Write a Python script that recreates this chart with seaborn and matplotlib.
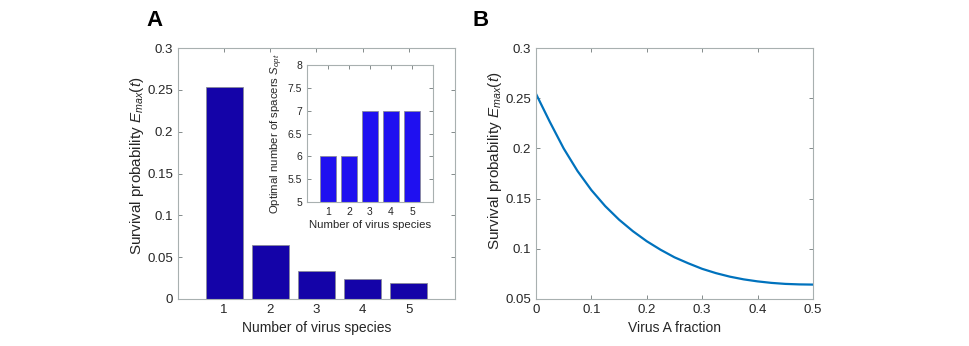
import numpy as np
import pandas as pd
import matplotlib
matplotlib.use("Agg")
import matplotlib.pyplot as plt
from matplotlib.ticker import FuncFormatter
import seaborn as sns

# panel A: survival probability vs number of virus species
species = ['1', '2', '3', '4', '5']
survival = [0.254, 0.065, 0.034, 0.024, 0.019]
# inset: optimal number of spacers
spacers_opt = [6, 6, 7, 7, 7]
# panel B: survival probability vs virus A fraction
fraction = [0.0, 0.025, 0.05, 0.075, 0.1, 0.125, 0.15, 0.175, 0.2, 0.225, 0.25,
            0.275, 0.3, 0.325, 0.35, 0.375, 0.4, 0.425, 0.45, 0.475, 0.5]
survival_b = [0.2545, 0.2265, 0.2000, 0.1775, 0.1585, 0.1425, 0.1290, 0.1175, 0.1075, 0.0990, 0.0915,
              0.0855, 0.0800, 0.0757, 0.0722, 0.0695, 0.0675, 0.0660, 0.0650, 0.0645, 0.0643]

sns.set_style("white")
plt.rcParams['font.family'] = ['Liberation Sans', 'DejaVu Sans']
plt.rcParams['mathtext.fontset'] = 'custom'
plt.rcParams['mathtext.it'] = 'Liberation Sans:italic'
plt.rcParams['mathtext.rm'] = 'Liberation Sans'
text_col = '#262626'
spine_col = '#a8b0b0'
bar_dark = '#1403a8'
bar_bright = '#1f10f0'
line_col = '#0072bd'


def style_axes(ax, size):
    for s in ax.spines.values():
        s.set_visible(True)
        s.set_color(spine_col)
        s.set_linewidth(0.8)
    ax.tick_params(direction='in', length=3, width=0.6, color='#707878',
                   top=True, right=True, labelsize=size, labelcolor=text_col,
                   bottom=True, left=True)


gfmt = FuncFormatter(lambda v, p: ('%g' % round(v, 4)))

fig = plt.figure(figsize=(9.69, 3.46), dpi=100)

# panel A
ax1 = fig.add_axes([0.1837, 0.136, 0.2858, 0.725])
sns.barplot(x=species, y=survival, color=bar_dark, width=0.8, saturation=1,
            edgecolor='#8a8a9a', linewidth=0.6, ax=ax1)
ax1.set_xlim(-1, 5)
ax1.set_ylim(0, 0.3)
ax1.set_yticks(np.arange(0, 0.31, 0.05))
ax1.yaxis.set_major_formatter(gfmt)
style_axes(ax1, 9.5)
ax1.set_xlabel('Number of virus species', fontsize=10, color=text_col, labelpad=4)
ax1.set_ylabel('Survival probability $E_{max}(t)$', fontsize=11, color=text_col,
               labelpad=1, y=0.53)

# inset
ax_in = fig.add_axes([0.3168, 0.416, 0.130, 0.396])
sns.barplot(x=species, y=spacers_opt, color=bar_bright, width=0.8, saturation=1,
            edgecolor='#8a8a9a', linewidth=0.6, ax=ax_in)
ax_in.set_xlim(-1, 5)
ax_in.set_ylim(5, 8)
ax_in.set_yticks(np.arange(5, 8.01, 0.5))
ax_in.yaxis.set_major_formatter(gfmt)
style_axes(ax_in, 7.5)
ax_in.set_xlabel('Number of virus species', fontsize=8.2, color=text_col, labelpad=2)
ax_in.set_ylabel('Optimal number of spacers $S_{opt}$', fontsize=8.2, color=text_col, labelpad=2)

# panel B
ax2 = fig.add_axes([0.5531, 0.136, 0.2859, 0.725])
df_b = pd.DataFrame({'fraction': fraction, 'survival': survival_b})
sns.lineplot(data=df_b, x='fraction', y='survival', color=line_col, linewidth=1.6, ax=ax2)
ax2.set_xlim(0, 0.5)
ax2.set_ylim(0.05, 0.3)
ax2.set_xticks(np.arange(0, 0.51, 0.1))
ax2.set_yticks(np.arange(0.05, 0.31, 0.05))
ax2.xaxis.set_major_formatter(gfmt)
ax2.yaxis.set_major_formatter(gfmt)
style_axes(ax2, 9.5)
ax2.set_xlabel('Virus A fraction', fontsize=10, color=text_col, labelpad=4)
ax2.set_ylabel('Survival probability $E_{max}(t)$', fontsize=11, color=text_col,
               labelpad=1, y=0.55)

fig.text(0.151, 0.925, 'A', fontsize=16, fontweight='bold', color='black')
fig.text(0.488, 0.925, 'B', fontsize=16, fontweight='bold', color='black')

fig.savefig('out.png', dpi=100)
